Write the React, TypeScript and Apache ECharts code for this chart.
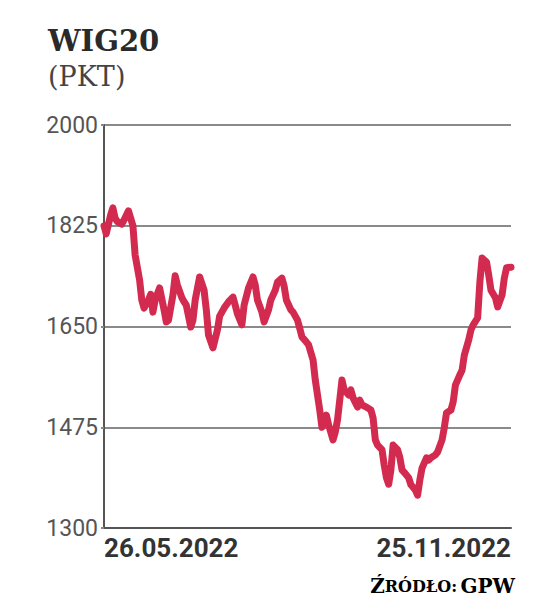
import React, { useEffect, useRef } from "react";
import * as echarts from "echarts";

const titleText = "WIG20";
const unitText = "(PKT)";
const sourceText = "Źródło: GPW";

const yTicks = [1300, 1475, 1650, 1825, 2000];
const xTickDates = ["2022-05-26", "2022-11-25"];
const xTickLabels = ["26.05.2022", "25.11.2022"];

const dates = [
  "2022-05-26", "2022-05-27", "2022-05-29", "2022-05-30", "2022-05-31", "2022-06-01", "2022-06-03", "2022-06-04",
  "2022-06-06", "2022-06-07", "2022-06-08", "2022-06-09", "2022-06-11", "2022-06-12", "2022-06-13", "2022-06-15",
  "2022-06-16", "2022-06-17", "2022-06-18", "2022-06-20", "2022-06-22", "2022-06-23", "2022-06-24", "2022-06-26",
  "2022-06-27", "2022-06-28", "2022-06-30", "2022-07-01", "2022-07-02", "2022-07-04", "2022-07-05", "2022-07-06",
  "2022-07-08", "2022-07-10", "2022-07-11", "2022-07-12", "2022-07-14", "2022-07-16", "2022-07-17", "2022-07-19",
  "2022-07-21", "2022-07-23", "2022-07-24", "2022-07-25", "2022-07-27", "2022-07-28", "2022-07-30", "2022-08-01",
  "2022-08-02", "2022-08-03", "2022-08-05", "2022-08-06", "2022-08-08", "2022-08-09", "2022-08-11", "2022-08-12",
  "2022-08-14", "2022-08-15", "2022-08-16", "2022-08-18", "2022-08-19", "2022-08-21", "2022-08-22", "2022-08-23",
  "2022-08-25", "2022-08-26", "2022-08-28", "2022-08-29", "2022-08-30", "2022-08-31", "2022-09-01", "2022-09-03",
  "2022-09-04", "2022-09-06", "2022-09-07", "2022-09-08", "2022-09-10", "2022-09-11", "2022-09-13", "2022-09-14",
  "2022-09-15", "2022-09-17", "2022-09-18", "2022-09-19", "2022-09-21", "2022-09-23", "2022-09-24", "2022-09-25",
  "2022-09-26", "2022-09-28", "2022-09-29", "2022-09-30", "2022-10-01", "2022-10-02", "2022-10-03", "2022-10-05",
  "2022-10-06", "2022-10-07", "2022-10-09", "2022-10-10", "2022-10-11", "2022-10-13", "2022-10-14", "2022-10-15",
  "2022-10-16", "2022-10-18", "2022-10-19", "2022-10-20", "2022-10-22", "2022-10-23", "2022-10-25", "2022-10-26",
  "2022-10-27", "2022-10-29", "2022-10-30", "2022-10-31", "2022-11-02", "2022-11-03", "2022-11-04", "2022-11-06",
  "2022-11-07", "2022-11-08", "2022-11-10", "2022-11-11", "2022-11-12", "2022-11-14", "2022-11-15", "2022-11-16",
  "2022-11-18", "2022-11-19", "2022-11-21", "2022-11-22", "2022-11-23", "2022-11-25",
];

const values = [
  1825, 1811, 1844, 1856, 1838, 1832, 1828, 1835,
  1851, 1838, 1825, 1774, 1731, 1696, 1682, 1696,
  1706, 1675, 1696, 1717, 1679, 1658, 1661, 1705,
  1738, 1722, 1700, 1693, 1687, 1649, 1661, 1696,
  1736, 1713, 1679, 1635, 1613, 1644, 1668, 1682,
  1693, 1701, 1687, 1672, 1653, 1687, 1717, 1736,
  1722, 1696, 1675, 1658, 1679, 1696, 1713, 1727,
  1734, 1720, 1696, 1679, 1675, 1661, 1647, 1632,
  1623, 1618, 1592, 1557, 1531, 1505, 1475, 1496,
  1479, 1453, 1467, 1488, 1557, 1540, 1531, 1540,
  1526, 1510, 1522, 1514, 1510, 1505, 1491, 1453,
  1444, 1436, 1409, 1387, 1376, 1401, 1444, 1436,
  1423, 1401, 1392, 1387, 1375, 1366, 1357, 1383,
  1404, 1422, 1418, 1422, 1427, 1432, 1453, 1474,
  1500, 1505, 1519, 1548, 1566, 1574, 1600, 1627,
  1644, 1653, 1665, 1727, 1769, 1762, 1739, 1713,
  1700, 1684, 1705, 1734, 1752, 1753,
];

const toTime = (d: string) => new Date(d + "T00:00:00").getTime();

export default function App() {
  const ref = useRef<HTMLDivElement>(null);

  useEffect(() => {
    if (!ref.current) return;
    const chart = echarts.init(ref.current, null, { renderer: "svg" });
    const xMin = toTime(xTickDates[0]);
    const xMax = toTime(xTickDates[1]);
    const srcFirst = sourceText.charAt(0).toUpperCase();
    const srcParts = sourceText.slice(1).split(": ");
    chart.setOption({
      animation: false,
      backgroundColor: "#ffffff",
      title: {
        text: titleText,
        subtext: unitText,
        left: 43,
        top: 21,
        itemGap: 8,
        textStyle: {
          fontFamily: "DejaVu Serif",
          fontWeight: "bold",
          fontSize: 29,
          color: "#2a2a2a",
        },
        subtextStyle: {
          fontFamily: "DejaVu Serif",
          fontSize: 27,
          color: "#444444",
        },
      },
      grid: { left: 104, right: 25, top: 125, bottom: 87 },
      xAxis: {
        type: "value",
        min: xMin,
        max: xMax,
        axisLine: { show: true, lineStyle: { color: "#555555", width: 2 } },
        axisTick: { show: false },
        splitLine: { show: false },
        axisLabel: {
          customValues: [xMin, xMax],
          alignMinLabel: "left",
          alignMaxLabel: "right",
          showMinLabel: true,
          showMaxLabel: true,
          margin: 7,
          fontFamily: "Roboto",
          fontWeight: "bold",
          fontSize: 26,
          color: "#333333",
          formatter: (v: number) => (v <= xMin + 1000 ? xTickLabels[0] : xTickLabels[1]),
        },
      },
      yAxis: {
        type: "value",
        min: yTicks[0],
        max: yTicks[yTicks.length - 1],
        interval: yTicks[1] - yTicks[0],
        axisLine: { show: true, lineStyle: { color: "#555555", width: 2 } },
        axisTick: { show: true, length: 3, lineStyle: { color: "#888888", width: 2 } },
        splitLine: { show: true, lineStyle: { color: "#8a8a8a", width: 2 } },
        axisLabel: {
          margin: 6,
          fontFamily: "Roboto",
          fontSize: 23,
          color: "#555555",
          formatter: (v: number) => String(v),
        },
      },
      series: [
        {
          type: "line",
          data: dates.map((d, i) => [toTime(d), values[i]]),
          showSymbol: false,
          symbol: "none",
          lineStyle: { color: "#d32b50", width: 7, join: "round", cap: "round" },
          z: 5,
        },
      ],
      graphic: [
        {
          type: "text",
          right: 21,
          top: 576,
          style: {
            text: `{big|${srcFirst}}{small|${srcParts[0].toUpperCase()}:} {big|${srcParts[1]}}`,
            rich: {
              big: { fontFamily: "DejaVu Serif", fontSize: 20, color: "#5a5a5a", fontWeight: "bold" },
              small: { fontFamily: "DejaVu Serif", fontSize: 16, color: "#5a5a5a", fontWeight: "bold" },
            },
          },
        },
      ],
    });
    return () => chart.dispose();
  }, []);

  return (
    <div
      ref={ref}
      style={{ position: "fixed", left: 0, top: 0, width: 536, height: 615, background: "#fff" }}
    />
  );
}
